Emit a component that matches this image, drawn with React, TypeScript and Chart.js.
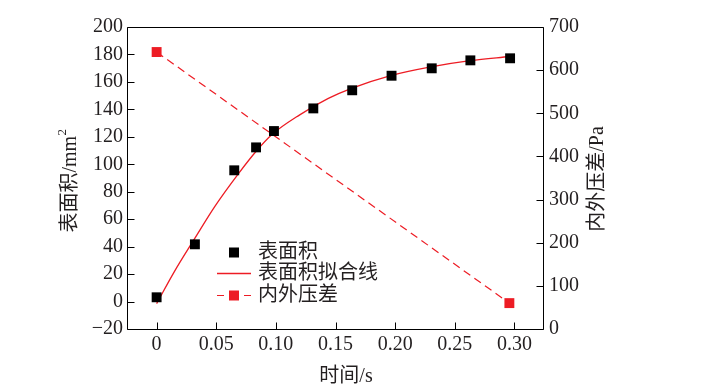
import React, { useEffect, useRef } from 'react';
import { Chart, registerables } from 'chart.js';

Chart.register(...registerables);

// Measured surface area (mm²) vs time (s)
const timeS = [0, 0.0321, 0.0651, 0.0834, 0.0984, 0.1314, 0.164, 0.197, 0.2307, 0.2631, 0.2964];
const surfaceArea = [3.1, 41.7, 95.6, 112.3, 124.2, 140.7, 153.9, 164.5, 169.9, 175.7, 177.2];

// Fitted curve
const fitTime = [0, 0.015, 0.032, 0.049, 0.0685, 0.084, 0.0965, 0.12, 0.144, 0.164, 0.197, 0.23, 0.263, 0.296];
const fitArea = [-1.5, 22, 46, 69.5, 93, 110, 121.5, 136, 148, 155.5, 164.8, 171, 175.5, 178.5];

// Pressure difference (Pa)
const pressureTime = [0, 0.2958];
const pressureDiff = [642, 60];

const xTicks = [0, 0.05, 0.1, 0.15, 0.2, 0.25, 0.3];
const xTickLabels = ['0', '0.05', '0.10', '0.15', '0.20', '0.25', '0.30'];

const legendLabels = ['表面积', '表面积拟合线', '内外压差'];
const xTitle = '时间/s';
const yTitleMain = '表面积/mm';
const yTitleSup = '2';
const y1Title = '内外压差/Pa';

const FONT_FAMILY = '"Liberation Serif", "Noto Sans CJK SC", serif';
const TEXT = '#231f20';
const RED = '#ed1c24';

const overlay = {
  id: 'overlay',
  afterDraw(chart: any) {
    const { ctx, chartArea: a, scales } = chart;
    const L = a.left - 0.5;
    const R = a.right + 0.5;
    const T = a.top + 0.5;
    const B = a.bottom + 0.5;
    ctx.save();
    ctx.strokeStyle = '#000';
    ctx.lineWidth = 1;
    ctx.beginPath();
    ctx.rect(L, T, R - L, B - T);
    ctx.stroke();
    const tl = 7;
    ctx.beginPath();
    scales.y.ticks.forEach((t: any) => {
      const y = Math.round(scales.y.getPixelForValue(t.value)) + 0.5;
      ctx.moveTo(L, y);
      ctx.lineTo(L + tl, y);
    });
    scales.y1.ticks.forEach((t: any) => {
      const y = Math.round(scales.y1.getPixelForValue(t.value)) + 0.5;
      ctx.moveTo(R, y);
      ctx.lineTo(R - tl, y);
    });
    scales.x.ticks.forEach((t: any) => {
      const x = Math.round(scales.x.getPixelForValue(t.value)) + 0.5;
      ctx.moveTo(x, B);
      ctx.lineTo(x, B - tl);
    });
    ctx.stroke();

    // Axis titles
    ctx.fillStyle = TEXT;
    ctx.textBaseline = 'middle';
    ctx.textAlign = 'center';
    ctx.font = `20px ${FONT_FAMILY}`;
    ctx.fillText(xTitle, 346, 377);

    ctx.save();
    ctx.translate(71, 181);
    ctx.rotate(-Math.PI / 2);
    ctx.font = `20px ${FONT_FAMILY}`;
    const w1 = ctx.measureText(yTitleMain).width;
    ctx.font = `13px ${FONT_FAMILY}`;
    const w2 = ctx.measureText(yTitleSup).width;
    const total = w1 + w2;
    ctx.textAlign = 'left';
    ctx.font = `20px ${FONT_FAMILY}`;
    ctx.fillText(yTitleMain, -total / 2, 0);
    ctx.font = `13px ${FONT_FAMILY}`;
    ctx.fillText(yTitleSup, -total / 2 + w1 + 0.5, -8);
    ctx.restore();

    ctx.save();
    ctx.translate(598, 179);
    ctx.rotate(-Math.PI / 2);
    ctx.textAlign = 'center';
    ctx.font = `20px ${FONT_FAMILY}`;
    ctx.fillText(y1Title, 0, 0);
    ctx.restore();

    // Legend
    const rows = [252.5, 273.5, 295.5];
    const mx = 234;
    const tx = 258;
    ctx.fillStyle = '#000';
    ctx.fillRect(mx - 5, rows[0] - 5, 10, 10);
    ctx.strokeStyle = RED;
    ctx.lineWidth = 1.3;
    ctx.beginPath();
    ctx.moveTo(217, rows[1]);
    ctx.lineTo(251, rows[1]);
    ctx.stroke();
    ctx.lineWidth = 1.2;
    ctx.beginPath();
    ctx.moveTo(217, rows[2]);
    ctx.lineTo(224, rows[2]);
    ctx.moveTo(244, rows[2]);
    ctx.lineTo(251, rows[2]);
    ctx.stroke();
    ctx.fillStyle = RED;
    ctx.fillRect(mx - 5, rows[2] - 5, 10, 10);

    ctx.fillStyle = TEXT;
    ctx.textAlign = 'left';
    ctx.textBaseline = 'middle';
    ctx.font = `20px ${FONT_FAMILY}`;
    legendLabels.forEach((lab, i) => ctx.fillText(lab, tx, rows[i]));
    ctx.restore();
  },
};

export default function App() {
  const ref = useRef<HTMLCanvasElement>(null);

  useEffect(() => {
    if (!ref.current) return;
    const tickFont = { family: FONT_FAMILY, size: 20 };
    const chart = new Chart(ref.current, {
      type: 'scatter',
      data: {
        datasets: [
          {
            label: legendLabels[0],
            data: timeS.map((x, i) => ({ x, y: surfaceArea[i] })),
            showLine: false,
            pointStyle: 'rect',
            pointRadius: 7,
            pointBorderWidth: 0,
            backgroundColor: '#000',
            borderColor: '#000',
            yAxisID: 'y',
          },
          {
            label: legendLabels[1],
            data: fitTime.map((x, i) => ({ x, y: fitArea[i] })),
            showLine: true,
            pointRadius: 0,
            borderColor: RED,
            borderWidth: 1.3,
            cubicInterpolationMode: 'monotone',
            yAxisID: 'y',
          },
          {
            label: legendLabels[2],
            data: pressureTime.map((x, i) => ({ x, y: pressureDiff[i] })),
            showLine: true,
            borderDash: [8, 5],
            borderColor: RED,
            borderWidth: 1.2,
            pointStyle: 'rect',
            pointRadius: 7,
            pointBorderWidth: 0,
            backgroundColor: RED,
            yAxisID: 'y1',
          },
        ],
      } as any,
      options: {
        animation: false,
        responsive: false,
        devicePixelRatio: 1,
        layout: { padding: { top: 27, left: 0, right: 0, bottom: 0 } },
        plugins: { legend: { display: false }, tooltip: { enabled: false } },
        scales: {
          x: {
            type: 'linear',
            min: -0.024,
            max: 0.324,
            grid: { display: false, drawTicks: false },
            border: { display: false },
            afterBuildTicks: (s: any) => {
              s.ticks = xTicks.map((value) => ({ value }));
            },
            afterFit: (s: any) => {
              s.height = 62;
            },
            ticks: {
              font: tickFont,
              color: TEXT,
              padding: 4,
              maxRotation: 0,
              autoSkip: false,
              callback: (v: any, i: number) => xTickLabels[i],
            },
          },
          y: {
            type: 'linear',
            position: 'left',
            min: -20,
            max: 200,
            grid: { display: false, drawTicks: false },
            border: { display: false },
            afterFit: (s: any) => {
              s.width = 128;
            },
            ticks: {
              stepSize: 20,
              font: tickFont,
              color: TEXT,
              padding: 5,
              callback: (v: any) => (v < 0 ? '\u2212' + Math.abs(v) : String(v)),
            },
          },
          y1: {
            type: 'linear',
            position: 'right',
            min: 0,
            max: 700,
            grid: { display: false, drawTicks: false },
            border: { display: false },
            afterFit: (s: any) => {
              s.width = 166;
            },
            ticks: {
              stepSize: 100,
              font: tickFont,
              color: TEXT,
              padding: 6,
            },
          },
        },
      } as any,
      plugins: [overlay],
    });
    return () => chart.destroy();
  }, []);

  return (
    <div style={{ position: 'fixed', left: 0, top: 0, width: 709, height: 391, background: '#fff' }}>
      <canvas ref={ref} width={709} height={391} style={{ width: 709, height: 391, display: 'block' }} />
    </div>
  );
}
